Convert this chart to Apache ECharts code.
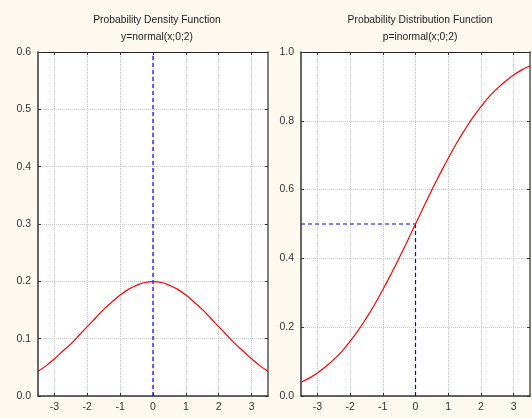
<!DOCTYPE html>
<html>
<head>
<meta charset="utf-8">
<script src="https://cdn.jsdelivr.net/npm/echarts@6/dist/echarts.min.js"></script>
<style>
  html, body { margin: 0; padding: 0; background: #fef9ee; }
  #chart { width: 532px; height: 418px; }
</style>
</head>
<body>
<div id="chart"></div>
<script>
// values
const xs = [-3.5, -3.25, -3, -2.75, -2.5, -2.25, -2, -1.75, -1.5, -1.25, -1, -0.75, -0.5, -0.25,
  0, 0.25, 0.5, 0.75, 1, 1.25, 1.5, 1.75, 2, 2.25, 2.5, 2.75, 3, 3.25, 3.5];
const density = [0.043, 0.053, 0.065, 0.078, 0.091, 0.106, 0.121, 0.136, 0.151, 0.164, 0.176, 0.186, 0.193, 0.198,
  0.1995, 0.198, 0.193, 0.186, 0.176, 0.164, 0.151, 0.136, 0.121, 0.106, 0.091, 0.078, 0.065, 0.053, 0.043];
const distribution = [0.040, 0.052, 0.067, 0.085, 0.106, 0.130, 0.159, 0.191, 0.227, 0.266, 0.309, 0.354, 0.401, 0.450,
  0.500, 0.550, 0.599, 0.646, 0.691, 0.734, 0.773, 0.809, 0.841, 0.870, 0.894, 0.915, 0.933, 0.948, 0.960];
const xTicks = [-3, -2, -1, 0, 1, 2, 3];
const pdfMarkerX = [0, 0];
const pdfMarkerY = [0, 0.6];
const cdfMarkerHX = [-3.5, 0];
const cdfMarkerHY = [0.5, 0.5];
const cdfMarkerVX = [0, 0];
const cdfMarkerVY = [0.5, 0];

const titles = [
  {text: 'Probability Density Function', sub: 'y=normal(x;0;2)'},
  {text: 'Probability Distribution Function', sub: 'p=inormal(x;0;2)'}
];

const font = 'Liberation Sans, Arial, sans-serif';
const zip = (a, b) => a.map((v, i) => [v, b[i]]);

function xAxisFor(gridIndex) {
  return [{
    type: 'value', gridIndex: gridIndex, min: -3.5, max: 3.5,
    axisLine: {show: true, lineStyle: {color: '#333', width: 1.5}},
    axisTick: {show: true, inside: true, length: 3, customValues: xTicks, lineStyle: {color: '#333'}},
    axisLabel: {customValues: xTicks, color: '#333', fontSize: 10.5, fontFamily: font, margin: 6},
    splitLine: {show: true, lineStyle: {color: '#c8c8c8', type: [1, 1], width: 1}}
  }, {
    type: 'value', gridIndex: gridIndex, position: 'top', min: -3.5, max: 3.5,
    axisLine: {show: true, onZero: false, lineStyle: {color: '#222', width: 1}},
    axisTick: {show: true, inside: true, length: 3, customValues: xTicks, lineStyle: {color: '#333'}},
    axisLabel: {show: false},
    splitLine: {show: false}
  }];
}

function yAxisFor(gridIndex, max, interval) {
  return [{
    type: 'value', gridIndex: gridIndex, min: 0, max: max, interval: interval,
    axisLine: {show: true, onZero: false, lineStyle: {color: '#333', width: 1.5}},
    axisTick: {show: true, inside: true, length: 3, lineStyle: {color: '#333'}},
    axisLabel: {color: '#333', fontSize: 10.5, fontFamily: font, margin: 7,
      formatter: v => v.toFixed(1)},
    splitLine: {show: true, lineStyle: {color: '#c8c8c8', type: [1, 1], width: 1}}
  }, {
    type: 'value', gridIndex: gridIndex, position: 'right', min: 0, max: max, interval: interval,
    axisLine: {show: true, onZero: false, lineStyle: {color: '#555', width: 1.5}},
    axisTick: {show: true, inside: true, length: 3, lineStyle: {color: '#333'}},
    axisLabel: {show: false},
    splitLine: {show: false}
  }];
}

const dashed = {color: '#0000ff', width: 1.2, type: [4, 3]};
const redLine = {color: '#ff0000', width: 1.2};

const chart = echarts.init(document.getElementById('chart'), null, {renderer: 'canvas'});

chart.setOption({
  backgroundColor: '#fef9ee',
  animation: false,
  title: [
    {text: titles[0].text, subtext: titles[0].sub, left: 152, top: 10, textAlign: 'center', itemGap: 7,
      textStyle: {fontSize: 10.3, fontWeight: 'normal', color: '#222', fontFamily: font},
      subtextStyle: {fontSize: 10.3, color: '#222', fontFamily: font}},
    {text: titles[1].text, subtext: titles[1].sub, left: 415, top: 10, textAlign: 'center', itemGap: 7,
      textStyle: {fontSize: 10.3, fontWeight: 'normal', color: '#222', fontFamily: font},
      subtextStyle: {fontSize: 10.3, color: '#222', fontFamily: font}}
  ],
  grid: [
    {left: 38, top: 52, width: 230, height: 344, show: true, backgroundColor: '#fff', borderWidth: 0},
    {left: 301, top: 52, width: 229, height: 344, show: true, backgroundColor: '#fff', borderWidth: 0}
  ],
  xAxis: [...xAxisFor(0), ...xAxisFor(1)],
  yAxis: [...yAxisFor(0, 0.6, 0.1), ...yAxisFor(1, 1.0, 0.2)],
  series: [
    {type: 'line', xAxisIndex: 0, yAxisIndex: 0, data: zip(pdfMarkerX, pdfMarkerY), symbol: 'none',
      lineStyle: dashed, z: 3},
    {type: 'line', xAxisIndex: 0, yAxisIndex: 0, data: zip(xs, density), symbol: 'none', smooth: true,
      lineStyle: redLine, z: 4},
    {type: 'line', xAxisIndex: 2, yAxisIndex: 2, data: zip(cdfMarkerHX, cdfMarkerHY), symbol: 'none',
      lineStyle: dashed, z: 3},
    {type: 'line', xAxisIndex: 2, yAxisIndex: 2, data: zip(cdfMarkerVX, cdfMarkerVY), symbol: 'none',
      lineStyle: dashed, z: 3},
    {type: 'line', xAxisIndex: 2, yAxisIndex: 2, data: zip(xs, distribution), symbol: 'none', smooth: true,
      lineStyle: redLine, z: 4}
  ]
});
</script>
</body>
</html>
